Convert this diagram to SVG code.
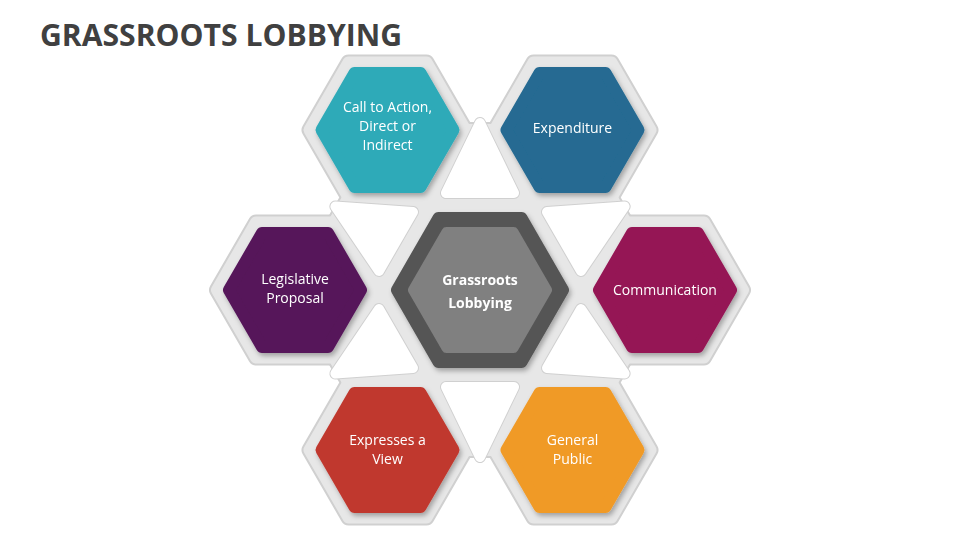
<svg xmlns="http://www.w3.org/2000/svg" width="960" height="540" viewBox="0 0 960 540">
<style>
.t{font-family:"Open Sans","Liberation Sans",sans-serif;font-size:14px;fill:#fff;text-anchor:middle}
.fo{stroke:#d0d0d0;stroke-width:16;stroke-linejoin:round;fill:#d0d0d0}
.fi{stroke:#e7e7e7;stroke-width:12;stroke-linejoin:round;fill:#e7e7e7}
.h{stroke-width:12;stroke-linejoin:round}
</style>
<defs>
<polygon id="fh" points="-78,0 -39,-67.5 39,-67.5 78,0 39,67.5 -39,67.5"/>
<polygon id="ch" points="-66,0 -33,-57 33,-57 66,0 33,57 -33,57"/>
<filter id="sh" x="-20%" y="-20%" width="140%" height="140%"><feDropShadow dx="2" dy="3" stdDeviation="2.5" flood-color="#000" flood-opacity="0.3"/></filter>
</defs>
<rect width="960" height="540" fill="#fff"/>
<text x="40" y="46" font-family="'Open Sans','Liberation Sans',sans-serif" font-weight="bold" font-size="30" fill="#404040" textLength="362" lengthAdjust="spacingAndGlyphs">GRASSROOTS LOBBYING</text>
<g id="frame">
<g class="fo">
<use href="#fh" x="387.5" y="130"/><use href="#fh" x="572.5" y="130"/><use href="#fh" x="665" y="290"/>
<use href="#fh" x="572.5" y="450"/><use href="#fh" x="387.5" y="450"/><use href="#fh" x="295" y="290"/>
<polygon points="387.5,130 572.5,130 665,290 572.5,450 387.5,450 295,290"/>
</g>
<g class="fi">
<use href="#fh" x="387.5" y="130"/><use href="#fh" x="572.5" y="130"/><use href="#fh" x="665" y="290"/>
<use href="#fh" x="572.5" y="450"/><use href="#fh" x="387.5" y="450"/><use href="#fh" x="295" y="290"/>
<polygon points="387.5,130 572.5,130 665,290 572.5,450 387.5,450 295,290"/>
</g>
<g id="holes">
<g id="hole"><polygon points="480,123 446,193 514,193" fill="#fff" stroke="#d0d0d0" stroke-width="12" stroke-linejoin="round"/><polygon points="480,123 446,193 514,193" fill="#fff" stroke="#fff" stroke-width="10" stroke-linejoin="round"/></g>
<use href="#hole" transform="rotate(60 480 290)"/><use href="#hole" transform="rotate(120 480 290)"/>
<use href="#hole" transform="rotate(180 480 290)"/><use href="#hole" transform="rotate(240 480 290)"/><use href="#hole" transform="rotate(300 480 290)"/>
</g>
</g>
<g id="connectors"></g>
<g id="center" filter="url(#sh)">
<polygon points="-83,0 -41.5,-72 41.5,-72 83,0 41.5,72 -41.5,72" transform="translate(480 290)" fill="#555" stroke="#555" stroke-width="12" stroke-linejoin="round"/>
<polygon points="-67,0 -33.5,-58 33.5,-58 67,0 33.5,58 -33.5,58" transform="translate(480 290)" fill="#808080" stroke="#808080" stroke-width="10" stroke-linejoin="round"/>
<text class="t" x="480" y="285" font-size="17" font-weight="bold">Grassroots</text>
<text class="t" x="480" y="308" font-size="17" font-weight="bold">Lobbying</text>
</g>
<g id="n1" filter="url(#sh)"><use href="#ch" x="387.5" y="130" fill="#2eaab8" stroke="#2eaab8" class="h"/>
<text class="t" x="387.5" y="112">Call to Action,</text><text class="t" x="387.5" y="131">Direct or</text><text class="t" x="387.5" y="150">Indirect</text></g>
<g id="n2" filter="url(#sh)"><use href="#ch" x="572.5" y="130" fill="#256b92" stroke="#256b92" class="h"/>
<text class="t" x="572.5" y="133">Expenditure</text></g>
<g id="n3" filter="url(#sh)"><use href="#ch" x="665" y="290" fill="#951554" stroke="#951554" class="h"/>
<text class="t" x="665" y="295">Communication</text></g>
<g id="n4" filter="url(#sh)"><use href="#ch" x="572.5" y="450" fill="#f09a28" stroke="#f09a28" class="h"/>
<text class="t" x="572.5" y="445">General</text><text class="t" x="572.5" y="464">Public</text></g>
<g id="n5" filter="url(#sh)"><use href="#ch" x="387.5" y="450" fill="#c0392f" stroke="#c0392f" class="h"/>
<text class="t" x="387.5" y="445">Expresses a</text><text class="t" x="387.5" y="464">View</text></g>
<g id="n6" filter="url(#sh)"><use href="#ch" x="295" y="290" fill="#56185a" stroke="#56185a" class="h"/>
<text class="t" x="295" y="284">Legislative</text><text class="t" x="295" y="303">Proposal</text></g>
</svg>
